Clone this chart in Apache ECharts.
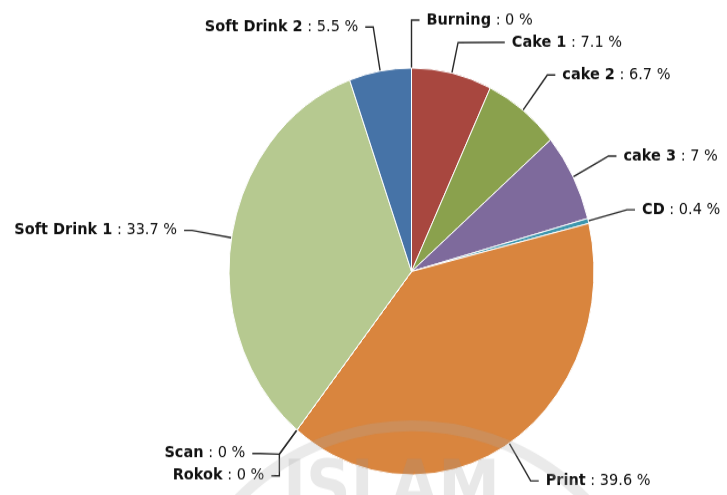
<!DOCTYPE html>
<html>
<head>
<meta charset="utf-8">
<script src="https://cdn.jsdelivr.net/npm/echarts@6/dist/echarts.min.js"></script>
<style>
html,body{margin:0;padding:0;background:#fff;overflow:hidden;}
#wrap{width:727px;height:495px;overflow:hidden;position:relative;}
#chart{width:727px;height:444px;transform:scaleY(1.1149);transform-origin:0 0;}
</style>
</head>
<body>
<div id="wrap"><div id="chart"></div></div>
<script>
const categories = ['Burning','Cake 1','cake 2','cake 3','CD','Print','Rokok','Scan','Soft Drink 1','Soft Drink 2'];
const values = [0, 7.1, 6.7, 7, 0.4, 39.6, 0, 0, 33.7, 5.5];
const colors = ['#4572A7','#A8473F','#8AA14D','#7E6A9C','#3D96AE','#D9853E','#92A8CD','#A47D7C','#B6C990','#4673A7'];
const watermarkText = 'ISLAM';

// pie geometry (pixels, in the unstretched chart)
const CX = 411.5, CY = 243.5, R = 182.5;
const LABEL_DIST = 40, CONN_OFF = 28, GAP = 20, TOP_MIN = 18, HLINE = 8, HGAP = 15;

// Highcharts-like label layout computed from the data
const total = values.reduce((a,b)=>a+b,0);
let cum = 0;
const info = values.map((v,i)=>{
  const th = 2*Math.PI*(cum + v/2)/total; cum += v;
  const s = Math.sin(th), c = Math.cos(th);
  return {i, s, c, left: s < -1e-9, y0: CY - (R+LABEL_DIST)*c};
});
function resolve(items){
  let blocks = items.map(it=>({items:[it], y:it.y0}));
  let merged = true;
  while(merged){
    merged = false;
    for(let k=1;k<blocks.length;k++){
      const p = blocks[k-1], q = blocks[k];
      if(p.y + p.items.length*GAP > q.y){
        const its = p.items.concat(q.items);
        let m = 0; its.forEach((it,j)=>{ m += it.y0 - j*GAP; });
        blocks.splice(k-1,2,{items:its, y:m/its.length});
        merged = true; break;
      }
    }
  }
  const out = [];
  blocks.forEach(b=>b.items.forEach((it,j)=>{ it.y = b.y + j*GAP; out.push(it); }));
  let prev = -Infinity;
  out.forEach((it,j)=>{ it.y = Math.max(it.y, j===0 ? TOP_MIN : prev + GAP); prev = it.y; });
}
const rightSide = info.filter(d=>!d.left).sort((a,b)=>a.y0-b.y0 || a.i-b.i);
const leftSide = info.filter(d=>d.left).sort((a,b)=>a.y0-b.y0 || b.i-a.i);
resolve(rightSide); resolve(leftSide);
function getX(y, left){
  const Rl = R + LABEL_DIST, dy = y - CY;
  const w = Math.abs(dy) >= Rl ? 0 : Math.sqrt(Rl*Rl - dy*dy);
  return CX + (left ? -w : w);
}
info.forEach(d=>{
  const sg = d.left ? -1 : 1;
  const E = [CX + R*d.s, CY - R*d.c];
  const P = [CX + (R+CONN_OFF)*d.s, CY - (R+CONN_OFF)*d.c];
  const gx = getX(d.y, d.left);
  const bx = d.left ? Math.min(gx, P[0]) : Math.max(gx, P[0]);
  d.points = [E, P, [bx, d.y], [bx + sg*HLINE, d.y]];
  d.lx = bx + sg*HGAP;
});

const chart = echarts.init(document.getElementById('chart'), null, {renderer:'canvas'});
const data = categories.map((c,i)=>({name:c, value:values[i], itemStyle:{color:colors[i]}}));
chart.setOption({
  animation:false,
  backgroundColor:'#fff',
  series:[{
    type:'pie',
    center:[CX,CY],
    radius:R,
    startAngle:90,
    clockwise:true,
    avoidLabelOverlap:false,
    minShowLabelAngle:0,
    data:data,
    itemStyle:{borderColor:'#fff',borderWidth:1},
    label:{
      show:true,
      position:'outside',
      fontFamily:'DejaVu Sans',
      fontSize:14.5,
      color:'#111',
      formatter:'{b|{b}} : {c} %',
      rich:{b:{fontWeight:'bold',fontFamily:'DejaVu Sans',fontSize:14.5,color:'#111'}}
    },
    labelLine:{show:true,length:20,length2:10,lineStyle:{color:'#2a2a2a',width:1.4}},
    labelLayout:function(params){
      const d = info[params.dataIndex];
      return {x:d.lx, y:d.y, align:d.left?'right':'left', verticalAlign:'middle', labelLinePoints:d.points};
    },
    emphasis:{disabled:true}
  }],
  graphic:[
    {type:'arc',z:100,silent:true,
     shape:{cx:412,cy:599,r:242,startAngle:Math.PI*1.02,endAngle:Math.PI*1.98},
     scaleY:0.897,originX:412,originY:599,
     style:{stroke:'rgba(170,170,170,0.25)',lineWidth:11,fill:null}},
    {type:'text',z:100,silent:true,left:283,top:410,
     style:{text:watermarkText,font:'bold 62px "DejaVu Sans"',fill:'rgba(150,150,150,0.22)'}}
  ]
});
</script>
</body>
</html>
